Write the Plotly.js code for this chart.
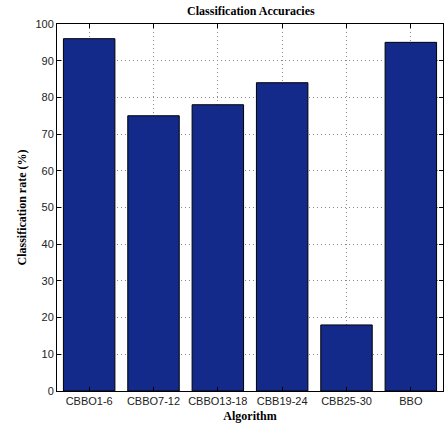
<!DOCTYPE html>
<html><head><meta charset="utf-8">
<script src="https://cdn.plot.ly/plotly-3.0.1.min.js"></script>
<style>body{margin:0;background:#fff}#c{width:448px;height:425px}</style>
</head><body><div id="c"></div>
<script>
const categories = ["CBBO1-6","CBBO7-12","CBBO13-18","CBB19-24","CBB25-30","BBO"];
const accuracies = [96, 75, 78, 84, 18, 95];
const yTicks = [0,10,20,30,40,50,60,70,80,90,100];

const trace = {
  type: 'bar',
  x: [1,2,3,4,5,6],
  y: accuracies,
  width: 0.8,
  marker: {color: '#142a8a', line: {color: '#000', width: 1}},
  hoverinfo: 'skip'
};
const layout = {
  width: 448, height: 425,
  margin: {l: 57, r: 5, t: 24, b: 34},
  paper_bgcolor: '#fff', plot_bgcolor: '#fff',
  showlegend: false,
  title: {text: '<b>Classification Accuracies</b>', font: {family: 'Liberation Serif', size: 12, color: '#000'}, x: 0.56, xanchor: 'center', y: 0.985, yanchor: 'top'},
  xaxis: {
    range: [0.5, 6.5], tickvals: [1,2,3,4,5,6], ticktext: categories,
    ticks: 'inside', ticklen: 4, tickcolor: '#000', mirror: 'ticks',
    showline: true, linecolor: '#000', linewidth: 1,
    showgrid: true, gridcolor: '#888', griddash: '1px,3px', gridwidth: 1,
    zeroline: false,
    tickfont: {family: 'Liberation Sans', size: 11, color: '#222'},
    title: {text: '<b>Algorithm</b>', font: {family: 'Liberation Serif', size: 12, color: '#000'}, standoff: 5}
  },
  yaxis: {
    range: [0, 100], tickvals: yTicks,
    ticks: 'inside', ticklen: 4, tickcolor: '#000', mirror: 'ticks',
    showline: true, linecolor: '#000', linewidth: 1,
    showgrid: true, gridcolor: '#888', griddash: '1px,3px', gridwidth: 1,
    zeroline: false,
    tickfont: {family: 'Liberation Sans', size: 11, color: '#222'},
    title: {text: '<b>Classification rate (%)</b>', font: {family: 'Liberation Serif', size: 12, color: '#000'}, standoff: 6}
  }
};
Plotly.newPlot('c', [trace], layout, {displayModeBar: false, staticPlot: true});
</script></body></html>
